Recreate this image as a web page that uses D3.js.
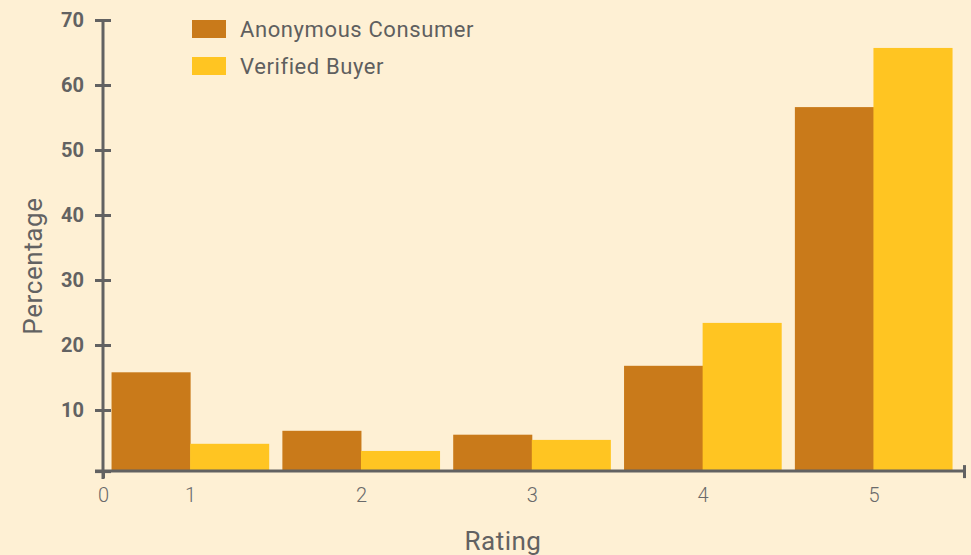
<!DOCTYPE html>
<html>
<head>
<meta charset="utf-8">
<script src="https://cdn.jsdelivr.net/npm/d3@7"></script>
<style>
  html, body { margin: 0; padding: 0; background: #FEF0D4; }
  svg { display: block; }
</style>
</head>
<body>
<svg id="chart"></svg>
<script>
// data
const ratings = [1, 2, 3, 4, 5];
const anonymous = [15.8, 6.8, 6.2, 16.8, 56.6];
const verified = [4.8, 3.7, 5.4, 23.4, 65.7];
const seriesNames = ["Anonymous Consumer", "Verified Buyer"];
const seriesColors = ["#C97A1A", "#FFC522"];
const yTicks = [10, 20, 30, 40, 50, 60, 70];
const xTickLabels = ["0", "1", "2", "3", "4", "5"];

const width = 971, height = 555;
const barW = 0.46;

const svg = d3.select("#chart")
    .attr("width", width)
    .attr("height", height);

const xDomain = [0.49, 5.53];
const yDomain = [0.6, 70];

const x = d3.scaleLinear().domain(xDomain).range([103, 964]);
const y = d3.scaleLinear().domain([0, 70]).range([475, 20]);

// bars
const series = [anonymous, verified];
series.forEach((vals, s) => {
    svg.append("g")
        .selectAll("rect")
        .data(vals)
        .join("rect")
            .attr("x", (d, i) => x(ratings[i] - barW + s * barW))
            .attr("width", x(barW) - x(0) + 0.5)
            .attr("y", d => y(d))
            .attr("height", d => y(yDomain[0]) - y(d))
            .attr("fill", seriesColors[s]);
});

const axisColor = "#626262";

// y axis
const yAxis = svg.append("g")
    .attr("transform", `translate(${x(xDomain[0])},0)`)
    .call(d3.axisLeft(y)
        .tickValues([yDomain[0]].concat(yTicks))
        .tickSizeOuter(0)
        .tickPadding(13)
        .tickFormat((d, i) => i === 0 ? "" : d));
yAxis.select(".domain")
    .attr("d", `M0,${y(70)}V${y(yDomain[0]) + 8}`)
    .attr("stroke", axisColor).attr("stroke-width", 3);
yAxis.selectAll(".tick line")
    .attr("x1", -8).attr("x2", 8)
    .attr("stroke", axisColor).attr("stroke-width", 3);
yAxis.selectAll(".tick text")
    .attr("fill", axisColor)
    .style("font-family", "Roboto, sans-serif")
    .style("font-size", "20px")
    .style("font-weight", "bold");

// x axis
const xAxis = svg.append("g")
    .attr("transform", `translate(0,${y(yDomain[0])})`)
    .call(d3.axisBottom(x)
        .tickValues([xDomain[0]].concat(ratings, [xDomain[1]]))
        .tickSizeOuter(0)
        .tickPadding(0)
        .tickFormat((d, i) => i < xTickLabels.length ? xTickLabels[i] : ""));
xAxis.select(".domain")
    .attr("d", `M${x(xDomain[0]) - 8},0H${x(xDomain[1])}`)
    .attr("stroke", axisColor).attr("stroke-width", 3);
xAxis.selectAll(".tick line")
    .attr("stroke", axisColor).attr("stroke-width", 3)
    .attr("y1", (d, i) => d === xDomain[1] ? -6 : 0)
    .attr("y2", (d, i) => (i === 0 || d === xDomain[1]) ? 7 : 0);
xAxis.selectAll(".tick text")
    .attr("y", 17)
    .attr("fill", "#6a6a6a")
    .style("font-family", "Roboto, sans-serif")
    .style("font-weight", "300")
    .style("font-size", "20px");

// axis titles
svg.append("text")
    .attr("x", 503).attr("y", 550)
    .attr("text-anchor", "middle")
    .attr("fill", "#626262")
    .style("font-family", "Roboto, sans-serif")
    .style("font-size", "26px")
    .style("letter-spacing", "0.5px")
    .text("Rating");

svg.append("text")
    .attr("transform", "translate(42,266) rotate(-90)")
    .attr("text-anchor", "middle")
    .attr("fill", "#626262")
    .style("font-family", "Roboto, sans-serif")
    .style("font-size", "26px")
    .style("letter-spacing", "0.6px")
    .text("Percentage");

// legend
const legend = svg.append("g")
    .selectAll("g")
    .data(seriesNames)
    .join("g")
        .attr("transform", (d, i) => `translate(192,${20 + i * 37})`);
legend.append("rect")
    .attr("width", 34).attr("height", 18)
    .attr("fill", (d, i) => seriesColors[i]);
legend.append("text")
    .attr("x", 48).attr("y", 17)
    .attr("fill", "#5f5f5f")
    .style("font-family", "Roboto, sans-serif")
    .style("font-size", "22px")
    .style("letter-spacing", "0.6px")
    .text(d => d);
</script>
</body>
</html>
